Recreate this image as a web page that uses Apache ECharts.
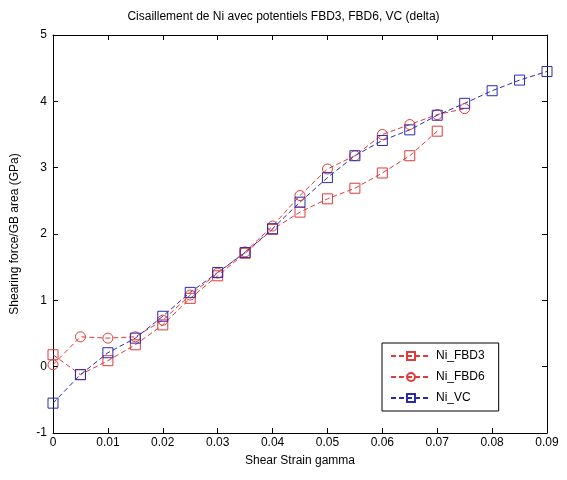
<!DOCTYPE html>
<html>
<head>
<meta charset="utf-8">
<script src="https://cdn.jsdelivr.net/npm/echarts@6/dist/echarts.min.js"></script>
<style>
  *{ margin:0; padding:0; }
  body{ background:#fff; }
</style>
</head>
<body>
<div id="chart" style="width:567px;height:480px;"></div>
<script>
// shear strain values
var strainFBD3 = [0, 0.005, 0.01, 0.015, 0.02, 0.025, 0.03, 0.035, 0.04, 0.045, 0.05, 0.055, 0.06, 0.065, 0.07];
var strainFBD6 = [0, 0.005, 0.01, 0.015, 0.02, 0.025, 0.03, 0.035, 0.04, 0.045, 0.05, 0.055, 0.06, 0.065, 0.07, 0.075];
var strainVC = [0, 0.005, 0.01, 0.015, 0.02, 0.025, 0.03, 0.035, 0.04, 0.045, 0.05, 0.055, 0.06, 0.065, 0.07, 0.075, 0.08, 0.085, 0.09];

// shearing force / GB area (GPa)
var forceFBD3 = [0.18, -0.12, 0.09, 0.33, 0.63, 1.03, 1.37, 1.71, 2.07, 2.33, 2.53, 2.69, 2.92, 3.18, 3.55];
var forceFBD6 = [0.03, 0.45, 0.43, 0.45, 0.70, 1.08, 1.41, 1.73, 2.12, 2.58, 2.98, 3.18, 3.50, 3.65, 3.80, 3.89];
var forceVC = [-0.55, -0.12, 0.21, 0.43, 0.76, 1.12, 1.42, 1.72, 2.08, 2.48, 2.85, 3.18, 3.41, 3.57, 3.79, 3.97, 4.16, 4.32, 4.45];

var seriesNames = ['Ni_FBD3', 'Ni_FBD6', 'Ni_VC'];
var red = '#e03a3a';
var blue = '#2a2ab0';

function pairs(xs, ys) {
  var out = [];
  for (var i = 0; i < xs.length; i++) out.push([xs[i], ys[i]]);
  return out;
}

function lineSeries(name, data, color, symbol) {
  return {
    name: name,
    type: 'line',
    data: data,
    symbol: symbol,
    symbolSize: 10,
    showAllSymbol: true,
    lineStyle: { color: color, width: 1, type: [5, 3] },
    // open markers, the line shows through like in matlab
    itemStyle: { color: 'rgba(255,255,255,0)', borderColor: color, borderWidth: 1 },
    emphasis: { disabled: true },
    animation: false
  };
}

var font = 'Liberation Sans, Arial, sans-serif';
var myChart = echarts.init(document.getElementById('chart'));
myChart.setOption({
  backgroundColor: '#fff',
  title: {
    text: 'Cisaillement de Ni avec potentiels FBD3, FBD6, VC (delta)',
    left: 'center',
    top: 6,
    textStyle: { fontSize: 12, fontWeight: 'normal', color: '#000', fontFamily: font }
  },
  legend: {
    left: 382,
    top: 343,
    orient: 'vertical',
    itemWidth: 40,
    itemHeight: 10,
    itemGap: 9,
    padding: [7, 14, 7, 8],
    borderColor: '#000',
    borderWidth: 1,
    backgroundColor: '#fff',
    textStyle: { fontSize: 12, color: '#000', fontFamily: font },
    data: seriesNames
  },
  grid: { left: 53, right: 20, top: 35, bottom: 47 },
  xAxis: [{
    type: 'value',
    min: 0,
    max: 0.09,
    interval: 0.01,
    name: 'Shear Strain gamma',
    nameLocation: 'middle',
    nameGap: 22,
    nameTextStyle: { fontSize: 12, color: '#000', fontFamily: font },
    axisLine: { onZero: false, lineStyle: { color: '#000' } },
    axisTick: { inside: true, length: 5, lineStyle: { color: '#000' } },
    axisLabel: { fontSize: 12, color: '#000', fontFamily: font, margin: 4 },
    splitLine: { show: false }
  }, {
    type: 'value',
    position: 'top',
    min: 0,
    max: 0.09,
    interval: 0.01,
    axisLine: { onZero: false, lineStyle: { color: '#000' } },
    axisTick: { inside: true, length: 5, lineStyle: { color: '#000' } },
    axisLabel: { show: false },
    splitLine: { show: false }
  }],
  yAxis: [{
    type: 'value',
    min: -1,
    max: 5,
    interval: 1,
    name: 'Shearing force/GB area (GPa)',
    nameLocation: 'middle',
    nameGap: 32,
    nameTextStyle: { fontSize: 12, color: '#000', fontFamily: font },
    axisLine: { show: true, onZero: false, lineStyle: { color: '#000' } },
    axisTick: { show: true, inside: true, length: 5, lineStyle: { color: '#000' } },
    axisLabel: { fontSize: 12, color: '#000', fontFamily: font, margin: 6 },
    splitLine: { show: false }
  }, {
    type: 'value',
    position: 'right',
    min: -1,
    max: 5,
    interval: 1,
    axisLine: { show: true, onZero: false, lineStyle: { color: '#000' } },
    axisTick: { show: true, inside: true, length: 5, lineStyle: { color: '#000' } },
    axisLabel: { show: false },
    splitLine: { show: false }
  }],
  series: [
    lineSeries(seriesNames[0], pairs(strainFBD3, forceFBD3), red, 'rect'),
    lineSeries(seriesNames[1], pairs(strainFBD6, forceFBD6), red, 'circle'),
    lineSeries(seriesNames[2], pairs(strainVC, forceVC), blue, 'rect')
  ]
});
</script>
</body>
</html>
